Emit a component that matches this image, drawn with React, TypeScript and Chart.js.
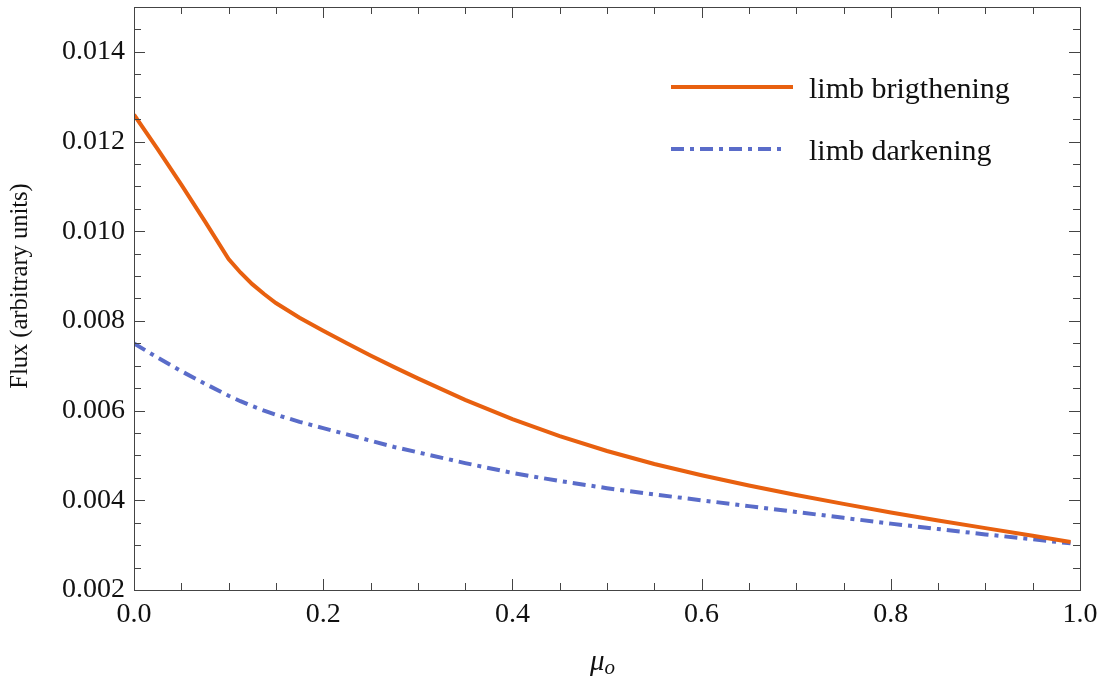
import React, { useEffect, useRef } from "react";
import { Chart, registerables } from "chart.js";

Chart.register(...registerables);

// emission angle cosine samples
const MU = [0, 0.025, 0.05, 0.075, 0.1, 0.1125, 0.125, 0.1375, 0.15, 0.175, 0.2, 0.225, 0.25, 0.275, 0.3, 0.35, 0.4, 0.45, 0.5, 0.55, 0.6, 0.65, 0.7, 0.75, 0.8, 0.85, 0.9, 0.95, 0.99];
// flux, limb brightening model
const BRIGHTENING = [0.0126, 0.01183, 0.01104, 0.01022, 0.00938, 0.00908, 0.00882, 0.0086, 0.0084, 0.00807, 0.00778, 0.0075, 0.00723, 0.00697, 0.00672, 0.00624, 0.00581, 0.00543, 0.0051, 0.00481, 0.00456, 0.00433, 0.00412, 0.00392, 0.00373, 0.00355, 0.00338, 0.00321, 0.00307];
// flux, limb darkening model
const DARKENING = [0.0075, 0.00718, 0.00688, 0.0066, 0.00633, 0.00621, 0.0061, 0.006, 0.00591, 0.00575, 0.00561, 0.00547, 0.00533, 0.00519, 0.00507, 0.00483, 0.00461, 0.00443, 0.00427, 0.00413, 0.004, 0.00387, 0.00374, 0.00361, 0.00348, 0.00336, 0.00324, 0.00313, 0.00304];

const SERIES_LABELS = ["limb brigthening", "limb darkening"];
const X_TICKS = [0, 0.2, 0.4, 0.6, 0.8, 1.0];
const Y_TICKS = [0.002, 0.004, 0.006, 0.008, 0.01, 0.012, 0.014];
const X_MINOR_STEP = 0.05;
const Y_MINOR_STEP = 0.0005;

const ORANGE = "#E8600F";
const BLUE = "#5A6CC9";
const DASH = [13, 6, 4, 6];
const SERIF = "'Liberation Serif', 'Times New Roman', serif";

const framePlugin = {
  id: "frameAndDecor",
  afterDraw(chart: any) {
    const { ctx, chartArea } = chart;
    const { left, right, top, bottom } = chartArea;
    const xs = chart.scales.x;
    const ys = chart.scales.y;
    ctx.save();
    ctx.strokeStyle = "#444";
    ctx.lineWidth = 1;
    ctx.strokeRect(Math.round(left) + 0.5, Math.round(top) + 0.5, Math.round(right - left), Math.round(bottom - top));

    const isMajor = (v: number, list: number[]) => list.some((t) => Math.abs(t - v) < 1e-9);
    ctx.beginPath();
    for (let i = 0; i <= Math.round((xs.max - xs.min) / X_MINOR_STEP); i++) {
      const v = xs.min + i * X_MINOR_STEP;
      const px = Math.round(xs.getPixelForValue(v)) + 0.5;
      const len = isMajor(v, X_TICKS) ? 11 : 7;
      ctx.moveTo(px, bottom);
      ctx.lineTo(px, bottom - len);
      ctx.moveTo(px, top);
      ctx.lineTo(px, top + len);
    }
    for (let i = 0; i <= Math.round((ys.max - ys.min) / Y_MINOR_STEP); i++) {
      const v = ys.min + i * Y_MINOR_STEP;
      const py = Math.round(ys.getPixelForValue(v)) + 0.5;
      const len = isMajor(v, Y_TICKS) ? 11 : 7;
      ctx.moveTo(left, py);
      ctx.lineTo(left + len, py);
      ctx.moveTo(right, py);
      ctx.lineTo(right - len, py);
    }
    ctx.stroke();

    // legend
    const entries = [
      { color: ORANGE, dash: [] as number[], x1: 671, x2: 793, y: 87, ty: 98 },
      { color: BLUE, dash: DASH, x1: 671, x2: 782, y: 149, ty: 160 },
    ];
    entries.forEach((e, i) => {
      ctx.save();
      ctx.strokeStyle = e.color;
      ctx.lineWidth = 4;
      ctx.setLineDash(e.dash);
      ctx.beginPath();
      ctx.moveTo(e.x1, e.y);
      ctx.lineTo(e.x2, e.y);
      ctx.stroke();
      ctx.restore();
      ctx.fillStyle = "#111";
      ctx.font = `30px ${SERIF}`;
      ctx.textAlign = "left";
      ctx.textBaseline = "alphabetic";
      ctx.fillText(chart.data.datasets[i].label, 809, e.ty);
    });

    // axis titles
    ctx.fillStyle = "#111";
    ctx.save();
    ctx.translate(21, 286);
    ctx.rotate(-Math.PI / 2);
    ctx.font = `24.5px ${SERIF}`;
    ctx.textAlign = "center";
    ctx.textBaseline = "middle";
    ctx.fillText("Flux (arbitrary units)", 0, 0);
    ctx.restore();

    ctx.textAlign = "left";
    ctx.textBaseline = "alphabetic";
    ctx.font = `italic 29px ${SERIF}`;
    ctx.fillText("μ", 590, 670);
    const muW = ctx.measureText("μ").width;
    ctx.font = `italic 21px ${SERIF}`;
    ctx.fillText("o", 590 + muW, 674);
    ctx.restore();
  },
};

export default function App() {
  const ref = useRef<HTMLCanvasElement>(null);
  useEffect(() => {
    if (!ref.current) return;
    const chart = new Chart(ref.current, {
      type: "line",
      data: {
        datasets: [
          {
            label: SERIES_LABELS[0],
            data: MU.map((m, i) => ({ x: m, y: BRIGHTENING[i] })),
            borderColor: ORANGE,
            borderWidth: 4,
            pointRadius: 0,
            tension: 0,
            fill: false,
          },
          {
            label: SERIES_LABELS[1],
            data: MU.map((m, i) => ({ x: m, y: DARKENING[i] })),
            borderColor: BLUE,
            borderWidth: 4,
            borderDash: DASH,
            pointRadius: 0,
            tension: 0,
            fill: false,
          },
        ],
      },
      options: {
        responsive: false,
        animation: false,
        devicePixelRatio: 1,
        layout: { padding: { left: 0, top: 7, right: 27, bottom: 0 } },
        plugins: { legend: { display: false }, tooltip: { enabled: false } },
        scales: {
          x: {
            type: "linear",
            min: 0,
            max: 1,
            afterBuildTicks: (s: any) => {
              s.ticks = X_TICKS.map((v) => ({ value: v }));
            },
            afterFit: (s: any) => {
              s.height = 94;
              s.paddingLeft = 0;
              s.paddingRight = 0;
            },
            grid: { display: false, drawTicks: false },
            border: { display: false },
            ticks: {
              padding: 8,
              color: "#111",
              font: { family: SERIF, size: 28 },
              maxRotation: 0,
              callback: (v: any) => Number(v).toFixed(1),
            },
          },
          y: {
            type: "linear",
            min: 0.002,
            max: 0.015,
            afterBuildTicks: (s: any) => {
              s.ticks = Y_TICKS.map((v) => ({ value: v }));
            },
            afterFit: (s: any) => {
              s.width = 134;
              s.paddingTop = 0;
              s.paddingBottom = 0;
            },
            grid: { display: false, drawTicks: false },
            border: { display: false },
            ticks: {
              padding: 9,
              color: "#111",
              font: { family: SERIF, size: 28 },
              callback: (v: any) => Number(v).toFixed(3),
            },
          },
        },
      },
      plugins: [framePlugin],
    });
    return () => chart.destroy();
  }, []);
  return (
    <div style={{ position: "absolute", left: 0, top: 0, width: 1107, height: 684, background: "#fff" }}>
      <canvas ref={ref} width={1107} height={684} />
    </div>
  );
}
